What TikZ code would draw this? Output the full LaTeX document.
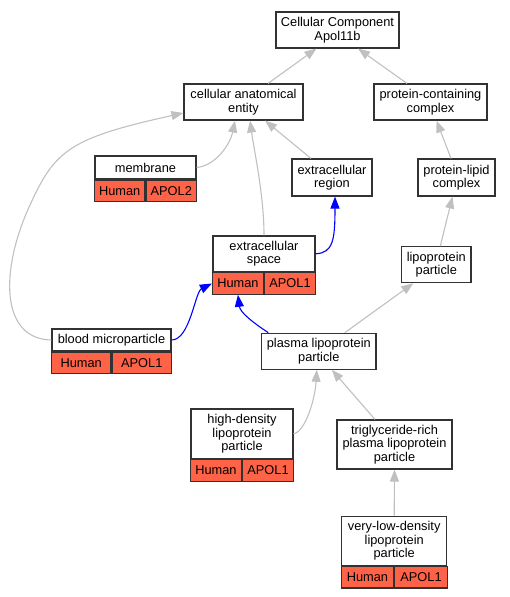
\documentclass[tikz,border=0pt]{standalone}
\usepackage{fontspec}
\setmainfont{Liberation Sans}
\usetikzlibrary{arrows.meta,positioning}
\definecolor{boxline}{RGB}{50,50,50}
\definecolor{edgegrey}{RGB}{192,192,192}
\definecolor{tomatored}{RGB}{255,99,71}
\definecolor{linkblue}{RGB}{0,0,255}
\tikzset{
  base/.style={font=\fontsize{12.8}{13.4}\selectfont, align=center, inner sep=1pt, text=black},
  term/.style={base, rectangle, draw=boxline, fill=white, line width=1.1pt, minimum height=36pt},
  cell/.style={term, fill=tomatored, minimum height=21.5pt},
  isa/.style={-{Triangle[length=12pt,width=9pt]}, line width=1.1pt, draw=edgegrey},
  isab/.style={isa, draw=linkblue},
}
\begin{document}
\begin{tikzpicture}[x=1pt,y=-1pt]
  \useasboundingbox (0,0) rectangle (510,597);
  % terms
  \node[term, minimum width=123pt] (cc) at (337.5,30) {Cellular Component\\Apol11b};
  \node[term, minimum width=119pt] (cae) at (243.5,102) {cellular anatomical\\entity};
  \node[term, minimum width=113pt] (pcc) at (430.5,102) {protein-containing\\complex};
  \node[term, minimum width=80pt, minimum height=37pt] (er) at (332,177.5) {extracellular\\region};
  \node[term, minimum width=77pt, minimum height=37pt] (plc) at (456.5,177.5) {protein-lipid\\complex};
  \node[term, minimum width=101pt, minimum height=23pt] (mem) at (145.5,167.5) {membrane};
  \node[term, minimum width=102pt, minimum height=35.7pt] (es) at (264,253.8) {extracellular\\space};
  \node[term, minimum width=119pt, minimum height=22pt] (bm) at (111.5,340) {blood microparticle};
  \node[term, minimum width=114.3pt] (plp) at (318.8,351.2) {plasma lipoprotein\\particle};
  \node[term, minimum width=69.3pt] (lp) at (436.3,264.7) {lipoprotein\\particle};
  \node[term, minimum width=102pt, minimum height=49.7pt] (hdl) at (242,433.8) {high-density\\lipoprotein\\particle};
  \node[term, minimum width=115pt, minimum height=49pt] (trl) at (394.5,444.5) {triglyceride-rich\\plasma lipoprotein\\particle};
  \node[term, minimum width=105pt, minimum height=49.3pt] (vldl) at (394.2,540.7) {very-low-density\\lipoprotein\\particle};
  % annotation cells
  \foreach \n/\w/\g in {mem/50.5/APOL2, es/51/APOL1, bm/59.5/APOL1, hdl/51/APOL1, vldl/52.5/APOL1}{
    \node[cell, minimum width=\w pt, anchor=north east] (\n-h) at (\n.south) {Human};
    \node[cell, minimum width=\w pt, anchor=north west] (\n-g) at (\n.south) {\g};
  }
  % is_a edges
  \draw[isa] ([xshift=24.5pt]cae.north) -- ([xshift=-21pt]cc.south);
  \draw[isa] ([xshift=-23.5pt]pcc.north) -- ([xshift=20.5pt]cc.south);
  \draw[isa] ([xshift=-5.5pt]plc.north) -- ([xshift=6pt]pcc.south);
  \draw[isa] (mem.east) .. controls (215,166) and (230,145) .. ([xshift=-8.5pt]cae.south);
  \draw[isa] ([xshift=-21pt]er.north) -- ([xshift=21.5pt]cae.south);
  \draw[isa] (es.north) .. controls (264,195) and (254,150) .. ([xshift=6.5pt]cae.south);
  \draw[isa] (bm.west) .. controls (0,339) and (0,270) .. (30,205) .. controls (55,150) and (70,138) .. ([yshift=-11pt]cae.west);
  \draw[isa] ([xshift=26pt]plp.north) -- ([xshift=-23pt]lp.south);
  \draw[isa] ([xshift=4pt]lp.north) -- ([xshift=-4pt]plc.south);
  \draw[isa] (hdl.east) .. controls (305,432) and (315,400) .. ([xshift=-2pt]plp.south);
  \draw[isa] ([xshift=-19.5pt]trl.north) -- ([xshift=13pt]plp.south);
  \draw[isa] (vldl.north) -- (trl.south);
  % part_of edges
  \draw[isab] (es.east) .. controls (333,253) and (335,240) .. ([xshift=3pt]er.south);
  \draw[isab] (bm.east) .. controls (190,340) and (195,292) .. (es-h.west);
  \draw[isab] ([xshift=-50.5pt]plp.north) .. controls (252,322) and (240,312) .. (es-h.south);
\end{tikzpicture}
\end{document}
